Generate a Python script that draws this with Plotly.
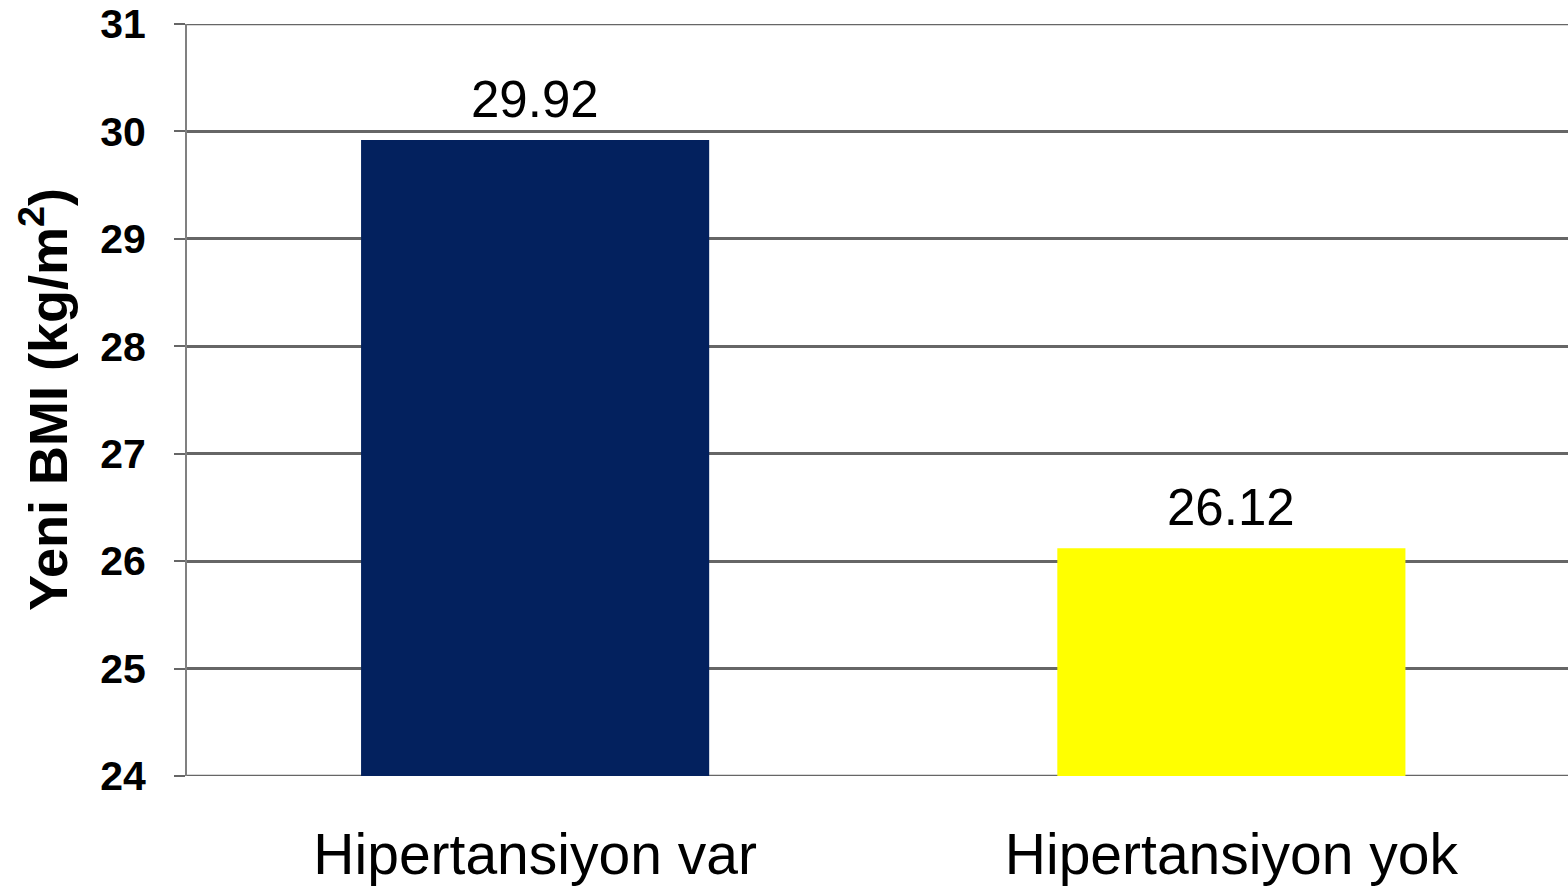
import plotly.graph_objects as go

# Mean BMI by hypertension status
categories = ["Hipertansiyon var", "Hipertansiyon yok"]
bmi_values = [29.92, 26.12]
bar_colors = ["#03215E", "#FFFF00"]
y_ticks = [24, 25, 26, 27, 28, 29, 30, 31]

FONT = "Liberation Sans, Arial, sans-serif"
GRID = "#666666"

fig = go.Figure()
fig.add_trace(go.Bar(
    x=categories,
    y=bmi_values,
    marker=dict(color=bar_colors, line=dict(width=0)),
    width=0.5,
    showlegend=False,
))

# Value labels above the bars
for cat, val in zip(categories, bmi_values):
    fig.add_annotation(
        x=cat, y=val, xref="x", yref="y",
        text=f"{val:.2f}", showarrow=False,
        yanchor="bottom", yshift=10,
        font=dict(family=FONT, size=51, color="#000000"),
    )

# Y-axis title
fig.add_annotation(
    x=0, y=0.5, xref="paper", yref="paper",
    text="Yeni BMI (kg/m<sup>2</sup>)", textangle=-90,
    showarrow=False, xanchor="center", yanchor="middle", xshift=-143,
    font=dict(family=FONT, size=54, color="#000000", weight="bold"),
)

# Grid lines at the range ends (top and baseline)
for yv in (y_ticks[0], y_ticks[-1]):
    fig.add_shape(
        type="line", xref="paper", yref="y",
        x0=0, x1=1, y0=yv, y1=yv,
        line=dict(color=GRID, width=2.5), layer="below",
    )

fig.update_layout(
    width=1568, height=887,
    margin=dict(l=187, r=0, t=24, b=111),
    paper_bgcolor="white",
    plot_bgcolor="white",
    bargap=0.5,
)

fig.update_xaxes(
    type="category",
    range=[-0.5, 1.4835],
    showgrid=False,
    showline=False,
    ticks="",
    tickfont=dict(family=FONT, size=57, color="#000000"),
    ticklabelstandoff=40,
)

fig.update_yaxes(
    range=[24, 31],
    tickvals=y_ticks,
    ticktext=[str(t) for t in y_ticks],
    showgrid=True, gridcolor=GRID, gridwidth=2.5,
    showline=True, linecolor="#808080", linewidth=2,
    ticks="outside", ticklen=11, tickcolor=GRID, tickwidth=2,
    tickfont=dict(family=FONT, size=41, color="#000000", weight="bold"),
    ticklabelstandoff=20,
    zeroline=False,
)

fig.write_html("out.html")
